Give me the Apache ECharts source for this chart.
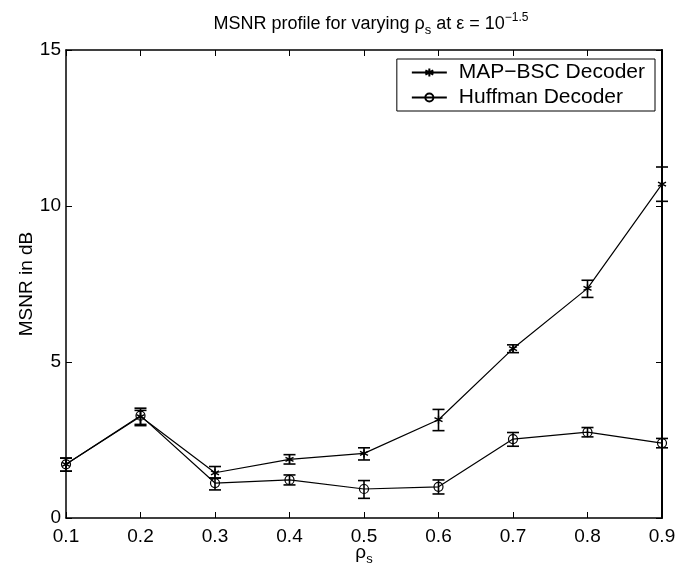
<!DOCTYPE html>
<html>
<head>
<meta charset="utf-8">
<script src="https://cdn.jsdelivr.net/npm/echarts@6/dist/echarts.min.js"></script>
<style>html,body{margin:0;padding:0;background:#fff;}#c{width:693px;height:572px;}</style>
</head>
<body>
<div id="c"></div>
<script>
var rho = [0.1, 0.2, 0.3, 0.4, 0.5, 0.6, 0.7, 0.8, 0.9];
var mapVals = [1.72, 3.25, 1.45, 1.88, 2.07, 3.15, 5.43, 7.36, 10.7];
var mapLow  = [1.50, 2.96, 1.28, 1.73, 1.86, 2.80, 5.30, 7.07, 10.15];
var mapHigh = [1.92, 3.52, 1.65, 2.03, 2.25, 3.48, 5.55, 7.62, 11.25];
var hufVals = [1.72, 3.28, 1.12, 1.22, 0.93, 1.00, 2.53, 2.75, 2.40];
var hufLow  = [1.50, 3.00, 0.90, 1.06, 0.63, 0.77, 2.30, 2.60, 2.25];
var hufHigh = [1.92, 3.45, 1.28, 1.38, 1.20, 1.22, 2.74, 2.90, 2.55];
var yTicks = [0, 5, 10, 15];

var FONT = 'Liberation Sans, Arial, Helvetica, sans-serif';
var chart = echarts.init(document.getElementById('c'));

function pairs(v) { return rho.map(function (x, i) { return [x, v[i]]; }); }
function errData(lo, hi) { return rho.map(function (x, i) { return [x, lo[i], hi[i]]; }); }

function errRender(params, api) {
  var x = api.value(0);
  var lo = api.coord([x, api.value(1)]);
  var hi = api.coord([x, api.value(2)]);
  var w = 6;
  var st = { stroke: '#000', lineWidth: 1.6 };
  return {
    type: 'group',
    children: [
      { type: 'line', shape: { x1: lo[0], y1: lo[1], x2: hi[0], y2: hi[1] }, style: st },
      { type: 'line', shape: { x1: lo[0] - w, y1: lo[1], x2: lo[0] + w, y2: lo[1] }, style: st },
      { type: 'line', shape: { x1: hi[0] - w, y1: hi[1], x2: hi[0] + w, y2: hi[1] }, style: st }
    ]
  };
}

var star = 'path://M0,-10L0,10M-8.66,-5L8.66,5M-8.66,5L8.66,-5';

var option = {
  backgroundColor: '#fff',
  animation: false,
  title: {
    text: 'MSNR profile for varying ρ{sub|s} at ε = 10{sup|−1.5}',
    left: 366, top: 6, textAlign: 'center',
    textStyle: {
      fontFamily: FONT, fontSize: 18, fontWeight: 'normal', color: '#000',
      rich: {
        sub: { fontFamily: FONT, fontSize: 13, color: '#000', verticalAlign: 'top', padding: [13, 0, 0, 0] },
        sup: { fontFamily: FONT, fontSize: 12, color: '#000', verticalAlign: 'bottom', padding: [0, 0, 13, 0] }
      }
    }
  },
  legend: {
    right: 38, top: 59,
    orient: 'vertical',
    align: 'left',
    backgroundColor: '#fff',
    borderColor: '#000', borderWidth: 1,
    padding: [3, 10, 3, 14],
    itemGap: 4,
    itemWidth: 35, itemHeight: 10,
    textStyle: { fontFamily: FONT, fontSize: 21, color: '#000', padding: [0, 0, 0, 7] },
    data: ['MAP\u2212BSC Decoder', 'Huffman Decoder']
  },
  grid: { left: 66, right: 31, top: 50, bottom: 54, outerBoundsMode: 'none', containLabel: false },
  xAxis: [{
    type: 'value', min: 0.1, max: 0.9, interval: 0.1,
    name: 'ρ{sub|s}', nameLocation: 'middle', nameGap: 22, nameMoveOverlap: false,
    nameTextStyle: { fontFamily: FONT, fontSize: 19, color: '#000', verticalAlign: 'top',
      rich: { sub: { fontFamily: FONT, fontSize: 13, color: '#000', verticalAlign: 'top', padding: [13, 0, 0, 0] } } },
    axisLine: { onZero: false, lineStyle: { color: '#000', width: 1.5 } },
    axisTick: { inside: true, length: 6, lineStyle: { color: '#000' } },
    axisLabel: { fontFamily: FONT, fontSize: 19, color: '#000', margin: 9,
      formatter: function (v) { return v.toFixed(1); } },
    splitLine: { show: false }
  }, {
    type: 'value', min: 0.1, max: 0.9, interval: 0.1, position: 'top',
    axisLine: { onZero: false, lineStyle: { color: '#000', width: 1.5 } },
    axisTick: { inside: true, length: 6, lineStyle: { color: '#000' } },
    axisLabel: { show: false }, splitLine: { show: false }
  }],
  yAxis: [{
    type: 'value', min: yTicks[0], max: yTicks[yTicks.length - 1], interval: 5,
    name: 'MSNR in dB', nameLocation: 'middle', nameGap: 30, nameMoveOverlap: false,
    nameTextStyle: { fontFamily: FONT, fontSize: 19, color: '#000' },
    axisLine: { show: true, onZero: false, lineStyle: { color: '#000', width: 1.5 } },
    axisTick: { show: true, inside: true, length: 6, lineStyle: { color: '#000' } },
    axisLabel: { fontFamily: FONT, fontSize: 19, color: '#000', margin: 5 },
    splitLine: { show: false }
  }, {
    type: 'value', min: yTicks[0], max: yTicks[yTicks.length - 1], interval: 5, position: 'right',
    axisLine: { show: true, onZero: false, lineStyle: { color: '#000', width: 2 } },
    axisTick: { show: true, inside: true, length: 6, lineStyle: { color: '#000' } },
    axisLabel: { show: false }, splitLine: { show: false }
  }],
  series: [
    {
      name: 'MAP\u2212BSC Decoder', type: 'line', data: pairs(mapVals),
      symbol: star, symbolSize: 8, showSymbol: true,
      lineStyle: { color: '#000', width: 1.2 },
      itemStyle: { color: '#000', borderColor: '#000', borderWidth: 1.4 },
      z: 3
    },
    {
      name: 'Huffman Decoder', type: 'line', data: pairs(hufVals),
      symbol: 'circle', symbolSize: 9, showSymbol: true,
      lineStyle: { color: '#000', width: 1.2 },
      itemStyle: { color: 'rgba(0,0,0,0)', borderColor: '#000', borderWidth: 1.2 },
      z: 3
    },
    { type: 'custom', renderItem: errRender, data: errData(mapLow, mapHigh), encode: { x: 0, y: [1, 2] }, z: 4, silent: true },
    { type: 'custom', renderItem: errRender, data: errData(hufLow, hufHigh), encode: { x: 0, y: [1, 2] }, z: 4, silent: true }
  ]
};
chart.setOption(option);
</script>
</body>
</html>
